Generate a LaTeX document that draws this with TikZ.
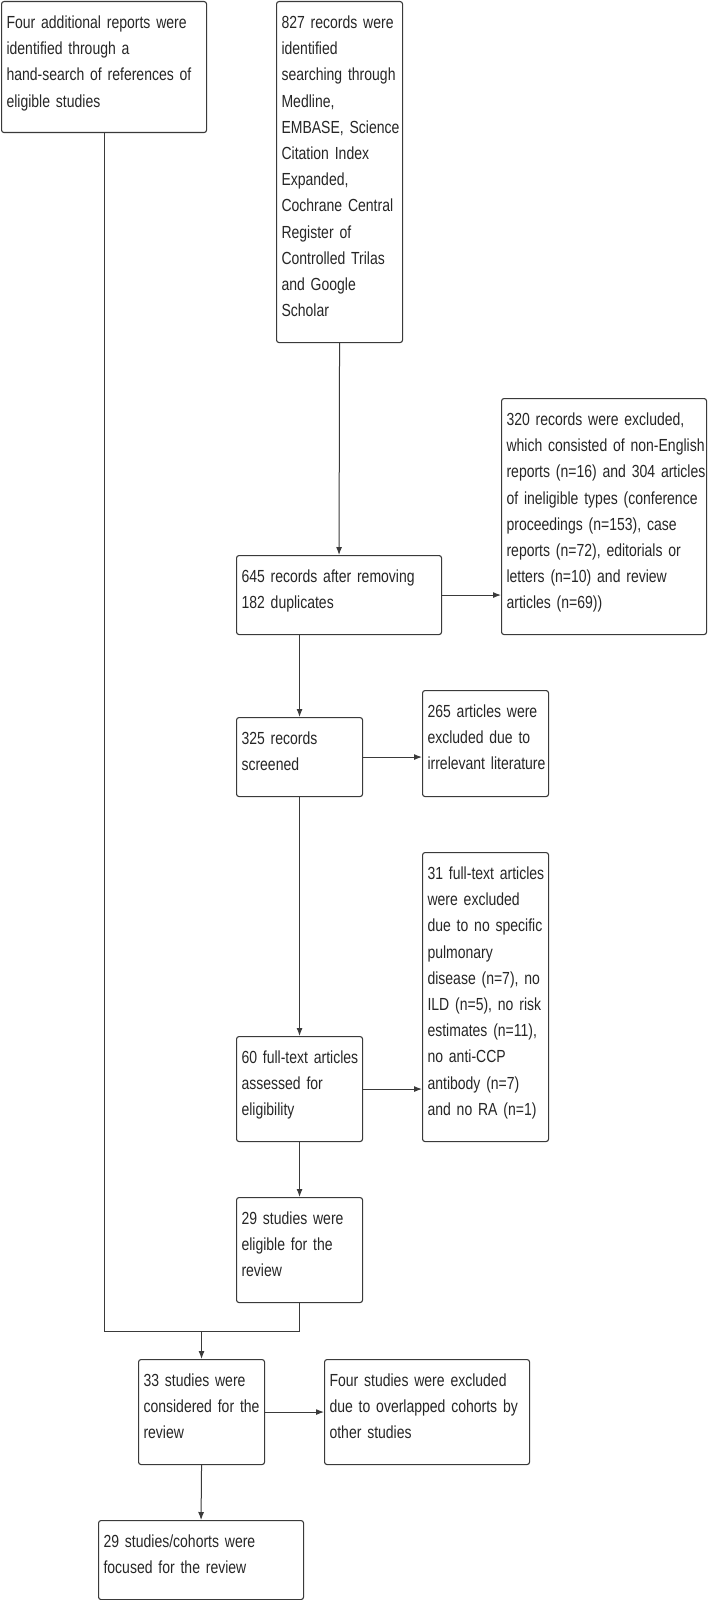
\documentclass[tikz,border=0pt]{standalone}
\usepackage{fontspec}
\usetikzlibrary{calc,arrows.meta}
\newfontfamily\boxfont[FakeStretch=0.8]{Liberation Sans}
\newcommand{\lines}[1]{\begin{tabular}[t]{@{}l@{}}#1\end{tabular}}
\definecolor{linegray}{HTML}{3A3A3A}
\definecolor{textgray}{HTML}{262626}
\tikzset{
  box/.style={draw=linegray, line width=1.1pt, rounded corners=2.5pt, anchor=north west,
    inner xsep=5pt, inner ysep=0pt, align=left, text=textgray, text height=27pt,
    font={\fontsize{17.5pt}{26.2pt}\boxfont}},
  narrow/.style={text width=116pt},
  wide/.style={text width=195pt},
  link/.style={draw=linegray, line width=1pt},
  arr/.style={link, -{Latex[length=8pt,width=6pt]}}
}
\begin{document}
\begin{tikzpicture}[x=1pt,y=1pt]
\useasboundingbox (0,0) rectangle (708,-1600);
% Identification
\node[box, wide, text depth=104pt] (hand) at (1,-1)
  {\lines{Four additional reports were\\identified through a\\hand-search of references of\\eligible studies}};
\node[box, narrow, text depth=314pt] (search) at (276,-1)
  {\lines{827 records were\\identified\\searching through\\Medline,\\EMBASE, Science\\Citation Index\\Expanded,\\Cochrane Central\\Register of\\Controlled Trilas\\and Google\\Scholar}};
% Screening
\node[box, wide, text depth=52pt] (dedup) at (236,-555)
  {\lines{645 records after removing\\182 duplicates}};
\node[box, wide, text depth=209pt] (excl1) at (501,-398)
  {\lines{320 records were excluded,\\which consisted of non-English\\reports (n=16) and 304 articles\\of ineligible types (conference\\proceedings (n=153), case\\reports (n=72), editorials or\\letters (n=10) and review\\articles (n=69))}};
\node[box, narrow, text depth=52pt] (screen) at (236,-717)
  {\lines{325 records\\screened}};
\node[box, narrow, text depth=79pt] (excl2) at (422,-690)
  {\lines{265 articles were\\excluded due to\\irrelevant literature}};
% Eligibility
\node[box, narrow, text depth=262pt] (excl3) at (422,-852)
  {\lines{31 full-text articles\\were excluded\\due to no specific\\pulmonary\\disease (n=7), no\\ILD (n=5), no risk\\estimates (n=11),\\no anti-CCP\\antibody (n=7)\\and no RA (n=1)}};
\node[box, narrow, text depth=78pt] (fulltext) at (236,-1036)
  {\lines{60 full-text articles\\assessed for\\eligibility}};
\node[box, narrow, text depth=78pt] (eligible) at (236,-1197)
  {\lines{29 studies were\\eligible for the\\review}};
% Included
\node[box, narrow, text depth=78pt] (considered) at (138,-1359)
  {\lines{33 studies were\\considered for the\\review}};
\node[box, wide, text depth=78pt] (excl4) at (324,-1359)
  {\lines{Four studies were excluded\\due to overlapped cohorts by\\other studies}};
\node[box, wide, text depth=52pt] (final) at (98,-1520)
  {\lines{29 studies/cohorts were\\focused for the review}};
% Connectors
\coordinate (join) at ($(considered.north)+(0,28)$);
\draw[link] (hand.south) |- (join) -| (eligible.south);
\draw[arr] (join) -- (considered.north);
\draw[arr] (search.south) -- (dedup.north);
\draw[arr] (dedup.east) -- (excl1.west |- dedup.east);
\draw[arr] (screen.north |- dedup.south) -- (screen.north);
\draw[arr] (screen.east) -- (excl2.west |- screen.east);
\draw[arr] (screen.south) -- (fulltext.north);
\draw[arr] (fulltext.east) -- (excl3.west |- fulltext.east);
\draw[arr] (fulltext.south) -- (eligible.north);
\draw[arr] (considered.east) -- (excl4.west);
\draw[arr] (considered.south) -- (final.north);
\end{tikzpicture}
\end{document}
